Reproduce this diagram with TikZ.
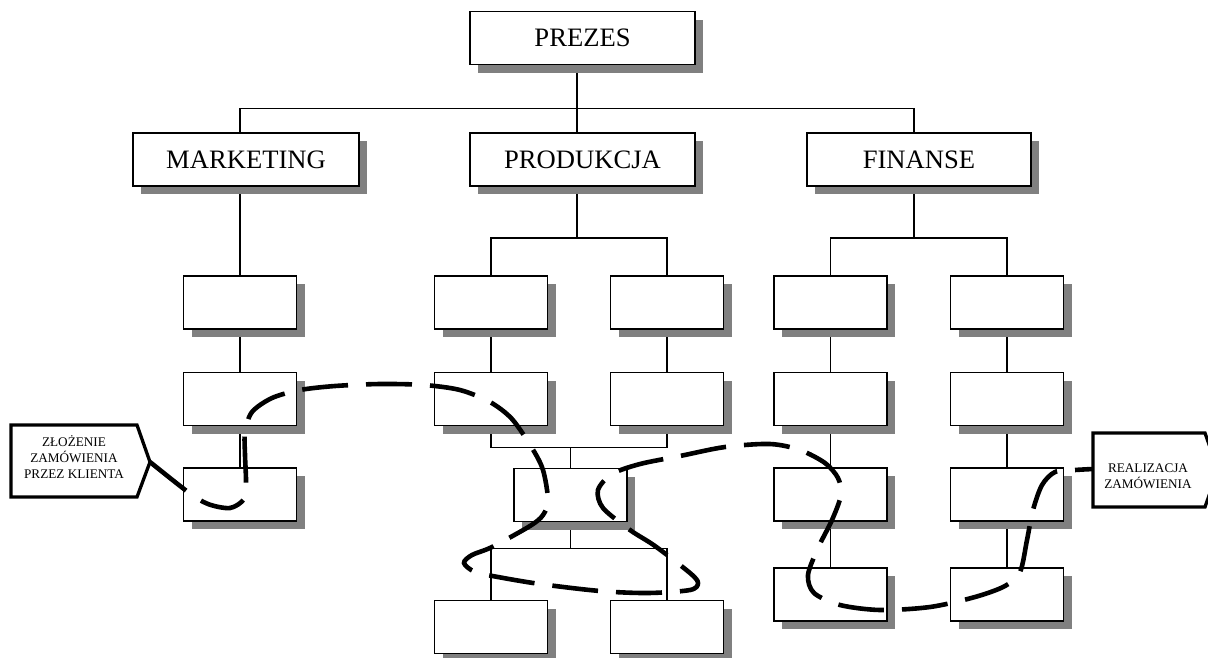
\documentclass[tikz,border=0pt]{standalone}
\usepackage{fontspec}
\setmainfont{Liberation Serif}
\usetikzlibrary{shadows,calc}
\pgfdeclarelayer{background}
\pgfsetlayers{background,main}
\definecolor{shadowgray}{RGB}{128,128,128}
\tikzset{
  orgbox/.style={draw=black, fill=white, line width=1.6pt, inner sep=0pt,
    minimum height=53pt, text height=17.7pt, text depth=0pt,
    font=\fontsize{26.6}{30}\selectfont,
    drop shadow={shadow xshift=8pt, shadow yshift=-8pt, fill=shadowgray, opacity=1, draw=none}},
  bigbox/.style={orgbox, minimum width=225pt},
  smallbox/.style={orgbox, minimum width=113pt},
  tree/.style={line width=1.4pt},
  callout/.style={draw=black, line width=3.3pt, line join=miter, fill=white},
  callouttext/.style={align=center, inner sep=0pt, font=\fontsize{13.2}{15.7}\selectfont},
  flow/.style={line width=4.6pt, dash pattern=on 46pt off 18pt, line cap=butt}
}
\begin{document}
\begin{tikzpicture}[x=1pt,y=-1pt]
\useasboundingbox (0,0) rectangle (1208,657);
\clip (0,0) rectangle (1208,657);

% level 1 and 2
\node[bigbox] (prezes) at (582.5,38) {PREZES};
\node[bigbox, minimum width=226pt] (mark) at (246,159.5) {MARKETING};
\node[bigbox] (prod) at (582.5,159.5) {PRODUKCJA};
\node[bigbox, minimum width=224pt] (fin) at (919,159.5) {FINANSE};

% marketing column
\node[smallbox] (m3) at (240,302.5) {};
\node[smallbox] (m4) at (240,399) {};
\node[smallbox] (m5) at (240,494.5) {};

% produkcja column
\node[smallbox] (p3a) at (491,302.5) {};
\node[smallbox] (p3b) at (667,302.5) {};
\node[smallbox] (p4a) at (491,399) {};
\node[smallbox] (p4b) at (667,399) {};
\node[smallbox] (pmid) at (570.5,495) {};
\node[smallbox] (p6a) at (491,627) {};
\node[smallbox] (p6b) at (667,627) {};

% finanse column
\node[smallbox] (f3a) at (830.5,302.5) {};
\node[smallbox] (f3b) at (1007,302.5) {};
\node[smallbox] (f4a) at (830.5,399) {};
\node[smallbox] (f4b) at (1007,399) {};
\node[smallbox] (f5a) at (830.5,494.5) {};
\node[smallbox] (f5b) at (1007,494.5) {};
\node[smallbox] (f6a) at (830.5,594.5) {};
\node[smallbox] (f6b) at (1007,594.5) {};

\begin{pgfonlayer}{background}
  \fill[white] (0,0) rectangle (1208,657);
  % top bus
  \draw[tree] ($(prezes.south)+(-5.5,0)$) -- ++(0,43) coordinate (tb);
  \draw[tree] (m3.north |- mark.north) |- (tb) -| ($(fin.north)+(-5,0)$);
  \draw[tree] (tb) -- (tb |- prod.north);
  % marketing
  \draw[tree] (m3.north |- mark.south) -- (m3.north);
  \draw[tree] (m3.south) -- (m4.north);
  \draw[tree] (m4.south) -- (m5.north);
  % produkcja
  \draw[tree] ($(prod.south)+(-5.5,0)$) -- ++(0,51) coordinate (pb);
  \draw[tree] (p3a.north) |- (pb) -| (p3b.north);
  \draw[tree] (p3a.south) -- (p4a.north);
  \draw[tree] (p3b.south) -- (p4b.north);
  \draw[tree] (pmid.north) -- ++(0,-20) coordinate (mb);
  \draw[tree] (p4a.south) |- (mb) -| (p4b.south);
  \draw[tree] (pmid.south) -- ++(0,26) coordinate (lb);
  \draw[tree] (p6a.north) |- (lb) -| (p6b.north);
  % finanse
  \draw[tree] ($(fin.south)+(-5,0)$) -- ++(0,51) coordinate (fb);
  \draw[tree] (f3a.north) |- (fb) -| (f3b.north);
  \draw[tree] (f3a.south) -- (f4a.north);
  \draw[tree] (f4a.south) -- (f5a.north);
  \draw[tree] (f5a.south) -- (f6a.north);
  \draw[tree] (f3b.south) -- (f4b.north);
  \draw[tree] (f4b.south) -- (f5b.north);
  \draw[tree] (f5b.south) -- (f6b.north);
\end{pgfonlayer}

% callouts
\draw[callout] (11,425) -- (137,425) -- (150,462) coordinate (lct) -- (137,497) -- (11,497) -- cycle;
\node[callouttext] (lc) at (74,457) {ZŁOŻENIE\\ZAMÓWIENIA\\PRZEZ KLIENTA};
\draw[callout] (1093,433) -- (1205,433) -- (1218,470) -- (1205,507) -- (1093,507) -- cycle;
\coordinate (rce) at (1093,469);
\node[callouttext] (rc) at (1148,476.5) {REALIZACJA\\ZAMÓWIENIA};

% order flow
\draw[flow] plot[smooth, tension=0.5] coordinates {
 (lct) (188,492) (208,504) (230,508) (244,499) (246,482) (245,455) (245,432)
 (252,412) (272,398) (300,390) (335,386) (380,384) (424,385) (460,390)
 (490,402) (512,419) (532,448) (543,470) (548,500) (543,515) (530,526)
 (492,547) (472,555) (464,563) (475,572) (498,577) (540,584) (600,591)
 (648,593) (690,590) (698,583) (690,573) (655,546) (630,530) (603,508)
 (598,490) (612,474) (640,464) (680,456) (725,447) (770,444) (800,450)
 (825,463) (838,478) (841,495) (832,520) (818,548) (808,575) (814,593)
 (840,605) (880,610) (930,607) (975,597) (1005,586) (1020,572) (1027,540)
 (1033,510) (1042,485) (1055,472) (1075,470) (rce)};
\end{tikzpicture}
\end{document}
